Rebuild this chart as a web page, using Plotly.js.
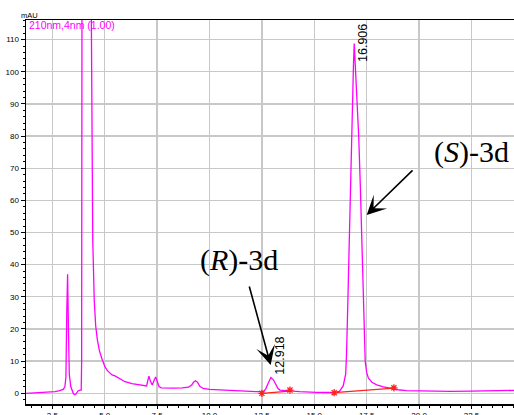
<!DOCTYPE html>
<html>
<head>
<meta charset="utf-8">
<script src="https://cdn.plot.ly/plotly-3.0.1.min.js"></script>
<style>html,body{margin:0;padding:0;background:#fff;overflow:hidden}</style>
</head>
<body>
<div id="chart" style="width:514px;height:415px"></div>
<script>
// Retention time (min)
const timeMin = [1.25,1.6,2.0,2.4,2.63,2.85,3.02,3.1,3.15,3.19,3.23,3.27,3.31,3.38,3.45,3.5,3.56,3.62,3.68,3.74,3.82,3.88,3.9,3.92,4.33,4.38,4.43,4.5,4.57,4.65,4.75,4.86,5.01,5.12,5.25,5.35,5.49,5.7,5.97,6.3,6.6,6.9,7.0,7.05,7.11,7.18,7.27,7.35,7.43,7.5,7.59,7.7,7.9,8.3,8.7,9.0,9.15,9.25,9.34,9.43,9.55,9.7,10.0,10.5,11.1,11.7,12.25,12.57,12.68,12.8,12.93,13.05,13.17,13.27,13.36,13.6,13.84,14.3,15.1,15.95,16.2,16.38,16.5,16.54,16.6,16.65,16.73,16.81,16.87,16.906,16.96,17.04,17.12,17.2,17.27,17.33,17.38,17.43,17.5,17.58,17.75,17.98,18.3,18.61,19.0,19.4,20.0,20.8,21.5,22.5,23.5,24.53];
// Absorbance (mAU) at 210 nm
const absorbance = [0.0,0.1,0.2,0.35,0.5,0.8,1.2,2.0,5,25,37.0,20,6,2.1,0.6,0.0,-0.4,-0.3,0.3,0.8,1.0,1.0,10,150,150,80,47.7,29,21,16.6,13.2,10.9,8.3,7.1,6.2,5.7,5.4,4.5,3.6,3.0,2.6,2.2,2.3,3.8,5.3,3.8,2.6,3.9,5.1,3.8,2.1,1.7,1.6,1.6,1.7,1.9,2.6,3.5,3.9,3.4,2.1,1.5,1.2,1.0,0.8,0.65,0.5,0.5,1.3,3.1,4.9,4.2,2.6,1.5,1.0,0.85,0.75,0.5,0.3,0.25,0.6,2.3,6,12.3,28,43,65,84.7,102,108.8,102,92,80,64,46,28,16,10,6.5,4.8,3.4,2.6,2.0,1.55,1.1,0.8,0.7,0.6,0.6,0.7,0.8,0.9];

// Integration baselines
const base1Time = [12.5, 13.84];
const base1Abs = [0.0, 0.7];
const base2Time = [15.95, 18.8];
const base2Abs = [0.2, 1.6];
const markerTime = [12.5, 13.84, 15.95, 18.8];
const markerAbs = [0.0, 1.0, 0.2, 1.7];

// Labels
const peakLabels = ['16.906', '12.918'];
const enantiomerLabels = ['(<i>S</i>)-3d', '(<i>R</i>)-3d'];
const channelLabel = '210nm,4nm (1.00)';
const unitLabel = 'mAU';

const magenta = '#ff00ff';
const red = '#ff2020';

const traces = [
  {x: timeMin, y: absorbance, type: 'scatter', mode: 'lines',
   line: {color: magenta, width: 1.3}, hoverinfo: 'skip'},
  {x: base1Time, y: base1Abs, type: 'scatter', mode: 'lines',
   line: {color: red, width: 1.2}, hoverinfo: 'skip'},
  {x: base2Time, y: base2Abs, type: 'scatter', mode: 'lines',
   line: {color: red, width: 1.2}, hoverinfo: 'skip'},
  {x: markerTime, y: markerAbs, type: 'scatter', mode: 'markers',
   marker: {symbol: 'asterisk', size: 6, line: {color: red, width: 1.3}, color: red},
   hoverinfo: 'skip'}
];

const tickFont = {family: 'Liberation Sans, Arial, sans-serif', size: 8, color: '#000'};

const layout = {
  width: 514, height: 415,
  margin: {l: 26, r: 0, t: 20, b: 11, pad: 0},
  paper_bgcolor: '#fff', plot_bgcolor: '#fff',
  showlegend: false,
  xaxis: {
    range: [1.245, 24.53], tickmode: 'linear', tick0: 0, dtick: 2.5, tickformat: '.1f',
    showgrid: true, gridcolor: '#c8c8c8', gridwidth: 1.3, zeroline: false,
    showline: true, linecolor: '#000', linewidth: 1.5, mirror: true,
    ticks: 'outside', ticklen: 3, tickcolor: '#000', tickwidth: 1,
    tickfont: tickFont,
    minor: {dtick: 0.5, ticks: 'outside', ticklen: 2, tickcolor: '#000', showgrid: false}
  },
  yaxis: {
    range: [-3.33, 116.1], tickmode: 'linear', tick0: 0, dtick: 10,
    showgrid: true, gridcolor: '#c8c8c8', gridwidth: 1.3, zeroline: false,
    showline: true, linecolor: '#000', linewidth: 1.5,
    ticks: 'outside', ticklen: 4, tickcolor: '#000', tickwidth: 1,
    tickfont: tickFont,
    minor: {dtick: 2, ticks: 'outside', ticklen: 2, tickcolor: '#000', showgrid: false}
  },
  annotations: [
    {xref: 'paper', yref: 'paper', x: 0.0076, y: 1.0117, text: unitLabel, showarrow: false,
     xanchor: 'center', yanchor: 'middle', font: {family: 'Liberation Sans, Arial', size: 7.5, color: '#000'}},
    {xref: 'paper', yref: 'paper', x: 0.0014, y: 0.986, text: channelLabel, showarrow: false,
     xanchor: 'left', yanchor: 'middle', font: {family: 'Liberation Sans, Arial', size: 10.5, color: magenta}},
    {x: 17.3, y: 109.1, text: peakLabels[0], textangle: -90, showarrow: false,
     xanchor: 'center', yanchor: 'middle', font: {family: 'Liberation Sans, Arial', size: 12.5, color: '#000'}},
    {x: 13.35, y: 11.6, text: peakLabels[1], textangle: -90, showarrow: false,
     xanchor: 'center', yanchor: 'middle', font: {family: 'Liberation Sans, Arial', size: 12.5, color: '#000'}},
    {x: 22.48, y: 75.05, text: enantiomerLabels[0], showarrow: false,
     xanchor: 'center', yanchor: 'middle', font: {family: 'Liberation Serif, Times New Roman, serif', size: 30, color: '#000'}},
    {x: 11.42, y: 41.46, text: enantiomerLabels[1], showarrow: false,
     xanchor: 'center', yanchor: 'middle', font: {family: 'Liberation Serif, Times New Roman, serif', size: 30, color: '#000'}},
    {x: 17.5, y: 55.46, axref: 'x', ayref: 'y', ax: 19.76, ay: 69.8, text: '', showarrow: true,
     arrowhead: 3, arrowsize: 2, arrowwidth: 1.6, arrowcolor: '#000', standoff: 0},
    {x: 12.92, y: 8.8, axref: 'x', ayref: 'y', ax: 11.88, ay: 33.7, text: '', showarrow: true,
     arrowhead: 3, arrowsize: 2, arrowwidth: 1.6, arrowcolor: '#000', standoff: 0}
  ]
};

Plotly.newPlot('chart', traces, layout, {staticPlot: true, displayModeBar: false});
</script>
</body>
</html>
